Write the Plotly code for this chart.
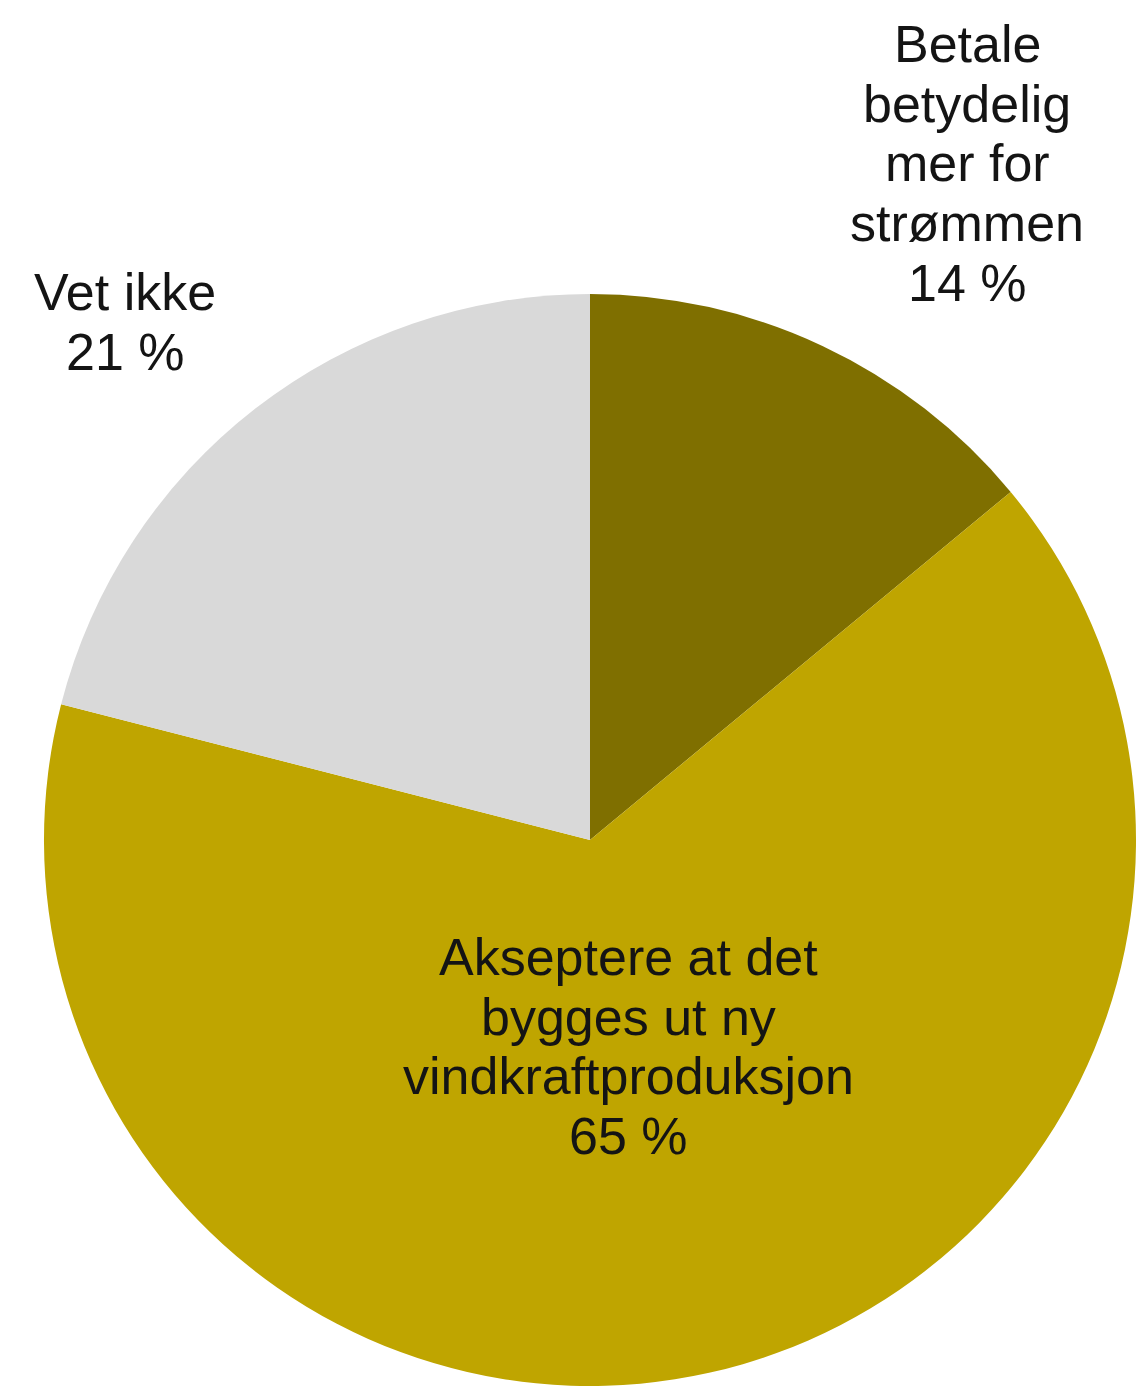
import plotly.graph_objects as go

# Survey answer shares (percent), in clockwise order from 12 o'clock
categories = ["Betale betydelig mer for strømmen",
              "Akseptere at det bygges ut ny vindkraftproduksjon",
              "Vet ikke"]
shares = [14, 65, 21]
slice_colors = ["#7F6F00", "#BFA500", "#D9D9D9"]

# Label text broken into lines as printed next to each slice
label_lines = [
    ["Betale", "betydelig", "mer for", "strømmen"],
    ["Akseptere at det", "bygges ut ny", "vindkraftproduksjon"],
    ["Vet ikke"],
]

W, H = 1138, 1386
FONT = dict(family="Liberation Sans, Arial, sans-serif", size=52, color="#141414")
LINE_STEP = 59.7  # px between baselines

# Label block placement: horizontal centre and first baseline (px from top)
label_pos = [(967, 62), (628, 975), (125, 310)]

fig = go.Figure(go.Pie(
    labels=categories,
    values=shares,
    marker=dict(colors=slice_colors, line=dict(width=0)),
    sort=False,
    direction="clockwise",
    rotation=0,
    textinfo="none",
    hoverinfo="label+percent",
    showlegend=False,
    domain=dict(x=[0.0369, 1.0], y=[0.0, 0.7879]),
))

annotations = []
for lines, share, (cx, base0) in zip(label_lines, shares, label_pos):
    all_lines = lines + [f"{share} %"]
    for i, txt in enumerate(all_lines):
        baseline = base0 + i * LINE_STEP
        centre = baseline - 0.3465 * FONT["size"]
        annotations.append(dict(
            text=txt, x=cx / W, y=1 - centre / H,
            xref="paper", yref="paper",
            xanchor="center", yanchor="middle",
            showarrow=False, font=FONT,
        ))

fig.update_layout(
    width=W, height=H,
    margin=dict(l=0, r=0, t=0, b=0),
    paper_bgcolor="white",
    plot_bgcolor="white",
    annotations=annotations,
)

fig.write_html("out.html")
